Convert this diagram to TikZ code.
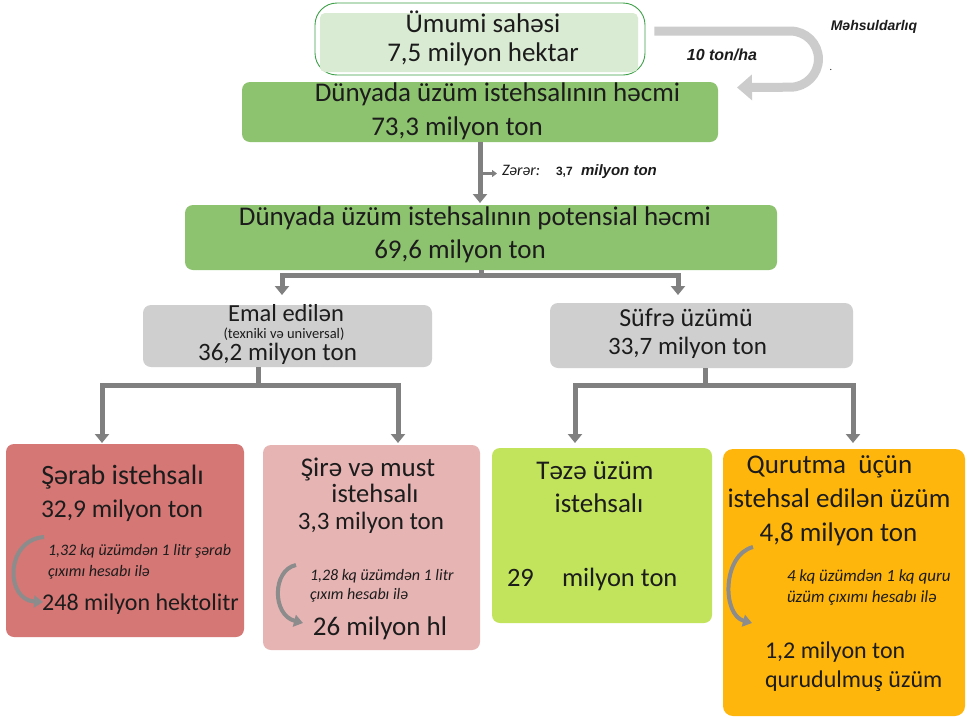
\documentclass[tikz,border=0pt]{standalone}
\usepackage{fontspec}
\setmainfont{Carlito}
\newfontfamily\arialf{Liberation Sans}
\usetikzlibrary{calc,arrows.meta}
\newcommand{\myfs}[1]{\fontsize{#1}{#1}\selectfont}
\definecolor{txtc}{RGB}{28,28,28}
\definecolor{topg}{RGB}{62,160,72}
\definecolor{topf}{RGB}{218,235,211}
\definecolor{greenb}{RGB}{141,194,111}
\definecolor{grayb}{RGB}{207,207,207}
\definecolor{sarabc}{RGB}{212,119,117}
\definecolor{sirec}{RGB}{231,180,180}
\definecolor{tezec}{RGB}{194,228,92}
\definecolor{qurc}{RGB}{255,182,12}
\definecolor{conc}{RGB}{128,128,128}
\definecolor{curc}{RGB}{204,204,204}
\definecolor{notec}{RGB}{140,140,140}
\begin{document}
\begin{tikzpicture}[x=1pt,y=-1pt,
  box/.style={rounded corners=8pt, inner sep=0pt, outer sep=0pt, draw=none},
  txt/.style={inner sep=0pt, outer sep=0pt, anchor=base, text=txtc},
  txtw/.style={txt, anchor=base west},
  note/.style={txtw, font=\itshape\myfs{16}},
  line/.style={draw=conc, line width=5pt},
  arr/.style={line, -{Triangle[length=9pt,width=14pt]}},
  thinarr/.style={draw=conc, line width=2.5pt, -{Triangle[length=5pt,width=7pt]}},
  curarr/.style={draw=notec, line width=4pt, -{Triangle[length=9pt,width=12pt]}},
  bigarr/.style={draw=curc, line width=9pt, rounded corners=28pt, -{Triangle[length=15pt,width=25pt]}},
  abi/.style={txt, font=\arialf\bfseries\itshape}
]
\fill[white] (0,0) rectangle (967,718);
\useasboundingbox (0,0) rectangle (967,718);

% boxes
\node[draw=topg, line width=0.9pt, rounded corners=22pt, minimum width=330pt, minimum height=72pt, inner sep=0pt] (topbox) at (480,39) {};
\node[box, fill=topf, rounded corners=5pt, minimum width=318pt, minimum height=59pt] (topfill) at (479,42.5) {};
\node[box, fill=greenb, minimum width=476pt, minimum height=60pt] (box2) at (480,112) {};
\node[box, fill=greenb, minimum width=592pt, minimum height=65pt] (box3) at (481,237.5) {};
\node[box, fill=grayb, minimum width=289pt, minimum height=62pt] (emal) at (287.5,336) {};
\node[box, fill=grayb, minimum width=303pt, minimum height=65pt] (sufre) at (701.5,335.5) {};
\node[box, fill=sarabc, minimum width=238pt, minimum height=193pt] (sarab) at (125,540.5) {};
\node[box, fill=sirec, minimum width=217pt, minimum height=205pt] (sire) at (371.5,547.5) {};
\node[box, fill=tezec, minimum width=220pt, minimum height=175pt] (teze) at (602,535.5) {};
\node[box, fill=qurc, rounded corners=10pt, minimum width=242pt, minimum height=267pt] (qurut) at (844,582.5) {};

% big curved arrow
\draw[bigarr] ($(topbox.north east)+(9,28.5)$) -- ++(164,0) -- ++(0,56) -- ($(box2.east)+(19,-24.5)$);

% main connectors
\draw[arr, shorten >=2pt] (box2.south) -- (box2.south |- box3.north);
\node[txtw, font=\itshape\myfs{16}] (zerer) at (502,175) {Zərər:};
\node[txtw, font=\arialf\bfseries\myfs{12}] (zval) at (556,175) {3,7};
\node[txtw, font=\arialf\bfseries\itshape\myfs{15}] (zunit) at (581,175) {milyon ton};
\coordinate (zm) at ($(box2.south)!0.5!(box2.south |- box3.north)$);
\draw[thinarr, shorten >=5pt] (zm) -- (zm -| zerer.west);

\coordinate (j1) at ($(box3.south)+(0,5)$);
\draw[line] (box3.south) -- (j1);
\draw[arr, shorten >=10pt] (j1) -| ([xshift=-5.5pt]emal.north);
\draw[arr, shorten >=8pt] (j1) -| ([xshift=-23.5pt]sufre.north);

\coordinate (j2) at ($(emal.south)+(-29.5,18)$);
\draw[line] ([xshift=-29.5pt]emal.south) -- (j2);
\draw[arr, shorten >=1pt] (j2) -| ([xshift=-23pt]sarab.north);
\draw[arr, shorten >=2pt] (j2) -| ([xshift=26.5pt]sire.north);

\coordinate (j3) at ($(sufre.south)+(3.5,17)$);
\draw[line] ([xshift=3.5pt]sufre.south) -- (j3);
\draw[arr, shorten >=5pt] (j3) -| ([xshift=-27pt]teze.north);
\draw[arr, shorten >=6pt] (j3) -| ([xshift=9pt]qurut.north);

% top texts
\node[txt, font=\myfs{27}] (t1) at (483,32) {Ümumi sahəsi};
\node[txt, font=\myfs{27}] (t2) at (483,61) {7,5 milyon hektar};
\node[abi, font=\arialf\bfseries\itshape\myfs{14}] (mehs) at (874,30) {Məhsuldarlıq};
\node[abi, font=\arialf\bfseries\itshape\myfs{16}] (ton) at (722,60) {10 ton/ha};
\node[txt, font=\myfs{10}] (dot) at (831,70) {.};

\node[txt, font=\myfs{27}] (b2a) at (497.5,101.5) {Dünyada üzüm istehsalının həcmi};
\node[txt, font=\myfs{27}] (b2b) at (457,135) {73,3 milyon ton};
\node[txt, font=\myfs{27}] (b3a) at (475,225) {Dünyada üzüm istehsalının potensial həcmi};
\node[txt, font=\myfs{27}] (b3b) at (460,258) {69,6 milyon ton};

\node[txt, font=\myfs{24.5}] (ea) at (286,321) {Emal edilən};
\node[txt, font=\myfs{14.5}] (eb) at (284,338.5) {(texniki və universal)};
\node[txt, font=\myfs{25}] (ec) at (277.5,360.5) {36,2 milyon ton};
\node[txt, font=\myfs{26}] (sa) at (686,326) {Süfrə üzümü};
\node[txt, font=\myfs{25}] (sb) at (687.5,354) {33,7 milyon ton};

% Sarab
\node[txt, font=\myfs{28}] (ra) at (122.5,484) {Şərab istehsalı};
\node[txt, font=\myfs{25.5}] (rb) at (122,517) {32,9 milyon ton};
\node[note] (rn1) at (48,555) {1,32 kq üzümdən 1 litr şərab};
\node[note] (rn2) at (48,576) {çıxımı hesabı ilə};
\node[txt, font=\myfs{24}] (rc) at (140.5,610) {248 milyon hektolitr};
\draw[curarr] (44,537) .. controls (5,540) and (5,600) .. (43,602);

% Sire
\node[txt, font=\myfs{27}] (ia) at (368,476) {Şirə və must};
\node[txt, font=\myfs{26.5}] (ib) at (375,502.5) {istehsalı};
\node[txt, font=\myfs{25}] (ic) at (371,529) {3,3 milyon ton};
\node[note] (in1) at (310,580) {1,28 kq üzümdən 1 litr};
\node[note] (in2) at (310,599) {çıxım hesabı ilə};
\node[txt, font=\myfs{27}] (id) at (380,635.5) {26 milyon hl};
\draw[curarr] (296,565) .. controls (272,570) and (272,615) .. (303,623);

% Teze
\node[txt, font=\myfs{27}] (ta) at (595,479) {Təzə üzüm};
\node[txt, font=\myfs{27}] (tb) at (599,512.5) {istehsalı};
\node[txtw, font=\myfs{26.5}] (tc) at (507,586.5) {29};
\node[txtw, font=\myfs{26.5}] (td) at (562,586.5) {milyon ton};

% Qurutma
\node[txt, font=\myfs{27}] (qa) at (829.5,473) {Qurutma\ \ üçün};
\node[txt, font=\myfs{27}] (qb) at (839,507) {istehsal edilən üzüm};
\node[txt, font=\myfs{27}] (qc) at (838.5,541.7) {4,8 milyon ton};
\node[note, font=\itshape\myfs{17}] (qn1) at (787,581.7) {4 kq üzümdən 1 kq quru};
\node[note, font=\itshape\myfs{17}] (qn2) at (787,602.7) {üzüm çıxımı hesabı ilə};
\node[txtw, font=\myfs{24}] (qd) at (765,658) {1,2 milyon ton};
\node[txtw, font=\myfs{24}] (qe) at (765,687) {qurudulmuş üzüm};
\draw[curarr] (753,547) .. controls (722,555) and (722,615) .. (752,623);
\end{tikzpicture}
\end{document}
